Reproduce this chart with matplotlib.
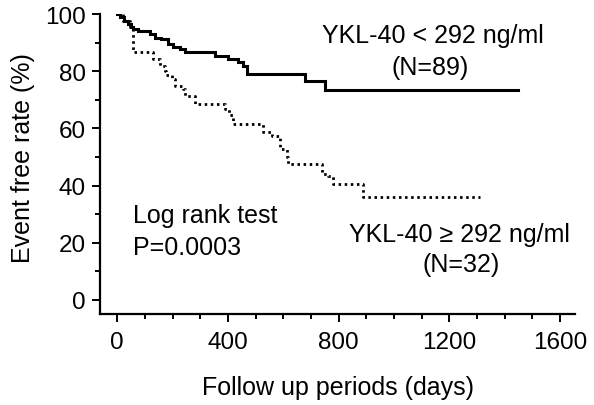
import matplotlib
matplotlib.use("Agg")
import matplotlib.pyplot as plt
from matplotlib.ticker import MultipleLocator

plt.rcParams['font.family'] = ['Liberation Sans', 'DejaVu Sans']

# Kaplan-Meier step data (days, event free rate %)
low_days = [0, 12, 25, 38, 50, 58, 75, 118, 137, 160, 184, 202, 227, 245, 353, 401, 437, 455, 468, 678, 750, 1449]
low_surv = [100, 98.9, 97.8, 96.6, 95.5, 94.9, 94.0, 93.0, 91.8, 91.2, 89.6, 88.5, 87.9, 86.7, 85.5, 84.4, 83.2, 82.0, 79.1, 76.8, 73.6, 73.6]

high_days = [0, 20, 45, 57, 130, 154, 172, 178, 197, 208, 238, 245, 281, 389, 405, 419, 528, 560, 588, 612, 618, 739, 760, 781, 889, 1311]
high_surv = [100, 97.8, 95.0, 86.7, 84.3, 82.0, 80.3, 78.6, 77.4, 75.0, 73.9, 71.5, 68.7, 66.8, 64.6, 61.6, 58.7, 57.5, 52.8, 49.9, 47.5, 44.1, 43.5, 40.6, 35.9, 35.9]

x_ticks = [0, 400, 800, 1200, 1600]
y_ticks = [0, 20, 40, 60, 80, 100]

fig = plt.figure(figsize=(5.94, 4.06), dpi=100)
ax = fig.add_axes([100/594, 1-315/406, 475/594, (315-15.3)/406])

ax.step(low_days, low_surv, where='post', color='black', lw=2.2, solid_joinstyle='miter')
ax.step(high_days, high_surv, where='post', color='black', lw=2.0,
        linestyle=(0, (0.9, 1.3)), dash_capstyle='butt')

ax.set_xlim(-62, 1654)
ax.set_ylim(-5, 100)
ax.set_xticks(x_ticks)
ax.set_yticks(y_ticks)
ax.xaxis.set_minor_locator(MultipleLocator(100))
ax.yaxis.set_minor_locator(MultipleLocator(10))

for s in ['top', 'right']:
    ax.spines[s].set_visible(False)
for s in ['left', 'bottom']:
    ax.spines[s].set_linewidth(1.6)

ax.tick_params(axis='both', which='major', direction='out', length=5.5, width=1.4, labelsize=17.5)
ax.tick_params(axis='both', which='minor', direction='out', length=3.5, width=1.4)
ax.tick_params(axis='x', which='major', pad=6.5)
ax.tick_params(axis='y', which='major', pad=4.5)

ax.set_xlabel('Follow up periods (days)', fontsize=18, va='center')
ax.xaxis.set_label_coords(0.501, -0.245)
ax.set_ylabel('Event free rate (%)', fontsize=18, va='center')
ax.yaxis.set_label_coords(-0.162, 0.524)

ax.text(1141, 90.3, 'YKL-40 < 292 ng/ml', fontsize=18, ha='center', va='baseline')
ax.text(1130, 79.1, '(N=89)', fontsize=18, ha='center', va='baseline')
ax.text(57, 27.1, 'Log rank test', fontsize=18, ha='left', va='baseline')
ax.text(57, 16.0, 'P=0.0003', fontsize=18, ha='left', va='baseline')
ax.text(1237, 20.5, 'YKL-40 \u2265 292 ng/ml', fontsize=18, ha='center', va='baseline')
ax.text(1242, 10.2, '(N=32)', fontsize=18, ha='center', va='baseline')

fig.savefig('out.png', dpi=100)
